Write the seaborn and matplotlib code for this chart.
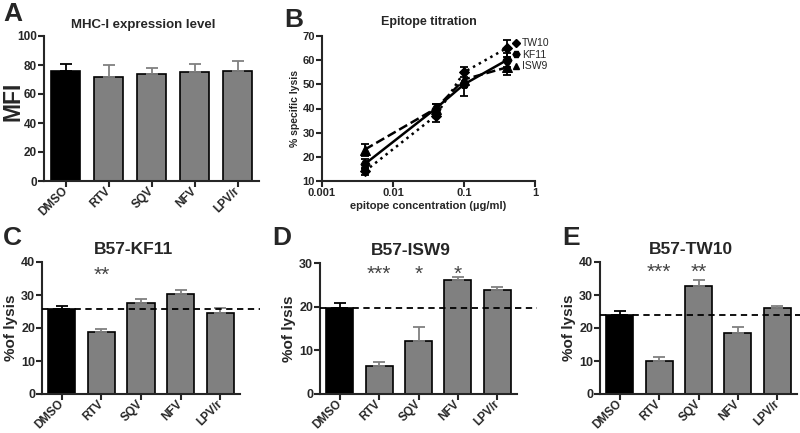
import numpy as np
import pandas as pd
import matplotlib
matplotlib.use("Agg")
import matplotlib.pyplot as plt
from matplotlib.lines import Line2D
import seaborn as sns

# ---- data ----
drugs = ["DMSO", "RTV", "SQV", "NFV", "LPV/r"]

mhc_mean = [76, 72, 74, 75, 76]
mhc_err = [5, 8, 4, 6, 7]

conc = [0.004, 0.04, 0.1, 0.4]
tw10_mean = [14, 37, 55, 65]
tw10_err = [1.5, 2.5, 2, 3.5]
kf11_mean = [17, 40, 50, 60]
kf11_err = [2, 2, 5, 3]
isw9_mean = [23, 40, 52, 57]
isw9_err = [2.5, 2, 3, 3]

kf11_lysis = [25.8, 18.8, 27.6, 30.4, 24.6]
kf11_lysis_err = [0.8, 0.8, 1.2, 1.2, 1.5]
isw9_lysis = [19.7, 6.3, 12.2, 26.1, 23.9]
isw9_lysis_err = [1.1, 1.1, 3.1, 0.8, 0.7]
tw10_lysis = [23.8, 10.0, 32.8, 18.6, 26.0]
tw10_lysis_err = [1.3, 1.2, 1.8, 1.7, 0.7]

kf11_stars = {"RTV": "**"}
isw9_stars = {"RTV": "***", "SQV": "*", "NFV": "*"}
tw10_stars = {"RTV": "***", "SQV": "**"}

sns.set_style("ticks")
plt.rcParams["font.family"] = ["Liberation Sans", "DejaVu Sans"]
plt.rcParams["font.weight"] = "bold"
plt.rcParams["axes.linewidth"] = 1.5
plt.rcParams["xtick.major.width"] = 1.5
plt.rcParams["ytick.major.width"] = 1.5
plt.rcParams["xtick.major.size"] = 4
plt.rcParams["ytick.major.size"] = 4

BAR_COLORS = ["black", "#808080", "#808080", "#808080", "#808080"]
W, H = 800, 433


def box(x0, y0, x1, y1):
    """pixel box (top-left origin) -> figure fraction rect"""
    return [x0 / W, 1 - y1 / H, (x1 - x0) / W, (y1 - y0) / H]


def bar_panel(ax, means, errs, ylim, yticks, title, ylabel, ylabel_size,
              tick_size, title_size, ref=None, stars=None, star_y=None,
              ylabel_xy=None):
    df = pd.DataFrame({"drug": drugs, "val": means})
    sns.barplot(data=df, x="drug", y="val", hue="drug", palette=BAR_COLORS,
                legend=False, errorbar=None, width=0.69, edgecolor="black",
                linewidth=1.2, ax=ax)
    for i, (m, e) in enumerate(zip(means, errs)):
        ax.errorbar(i, m, yerr=[[0], [e]], fmt="none", ecolor=BAR_COLORS[i],
                    elinewidth=1.3, capsize=4.5, capthick=1.3, zorder=1)
    ax.set_xlim(-0.5, 4.5)
    ax.set_ylim(*ylim)
    ax.set_yticks(yticks)
    ax.set_xlabel("")
    ax.set_ylabel(ylabel, fontsize=ylabel_size, fontweight="bold", labelpad=2)
    if ylabel_xy is not None:
        ax.yaxis.set_label_coords(*ylabel_xy)
        ax.yaxis.label.set_va("center")
    ax.set_title(title, fontsize=title_size, fontweight="bold", x=0.46, pad=6)
    ax.tick_params(axis="y", labelsize=tick_size, pad=1)
    ax.tick_params(axis="x", labelsize=8.5, pad=2)
    for lab in ax.get_xticklabels():
        lab.set_rotation(45)
        lab.set_ha("right")
        lab.set_va("center")
        lab.set_rotation_mode("anchor")
        lab.set_fontweight("bold")
    for lab in ax.get_yticklabels():
        lab.set_fontweight("bold")
    if ref is not None:
        ax.axhline(ref, xmin=0, xmax=1.1, color="black", lw=1.3,
                   ls=(0, (3.5, 2.5)), clip_on=False, zorder=5)
    if stars:
        for k, s in stars.items():
            ax.text(drugs.index(k), star_y, s, ha="center", va="center",
                    fontsize=15, color="#444444", fontweight="normal")
    sns.despine(ax=ax)


fig = plt.figure(figsize=(8, 4.33), dpi=100)

# A
axA = fig.add_axes(box(44, 36, 259, 181))
bar_panel(axA, mhc_mean, mhc_err, (0, 100), range(0, 101, 20),
          "MHC-I expression level", "MFI", 16.5, 8.5, 9.5,
          ylabel_xy=(-31 / 215, 0.55))

# B
axB = fig.add_axes(box(322, 36, 535, 181))
series = [("TW10", tw10_mean, tw10_err, "D", ":", 5.5, 4.5),
          ("KF11", kf11_mean, kf11_err, "H", "-", 6.5, 5),
          ("ISW9", isw9_mean, isw9_err, "^", "--", 6.5, 5)]
handles = []
for name, m, e, mk, ls, ms, lms in series:
    sns.lineplot(x=conc, y=m, ax=axB, color="black", lw=1.8, linestyle=ls,
                 marker=mk, markersize=ms, markeredgecolor="black")
    axB.errorbar(conc, m, yerr=e, fmt="none", ecolor="black", elinewidth=1.3,
                 capsize=3, capthick=1.3)
    handles.append(Line2D([], [], color="black", marker=mk, ls="none",
                          markersize=lms))
axB.set_xscale("log")
axB.set_xlim(0.001, 1)
axB.set_ylim(10, 70)
axB.set_xticks([0.001, 0.01, 0.1, 1])
axB.set_xticklabels(["0.001", "0.01", "0.1", "1"])
axB.minorticks_off()
axB.set_yticks(range(10, 71, 10))
axB.tick_params(labelsize=8, pad=1)
for lab in axB.get_xticklabels() + axB.get_yticklabels():
    lab.set_fontweight("bold")
axB.set_xlabel("epitope concentration (\u00b5g/ml)", fontsize=8,
               fontweight="bold", labelpad=2)
axB.set_ylabel("% specific lysis", fontsize=7.5, fontweight="bold", labelpad=2)
axB.set_title("Epitope titration", fontsize=9, fontweight="bold", pad=8)
leg = axB.legend(handles, [s[0] for s in series], loc="upper left",
                 bbox_to_anchor=(0.895, 0.985), frameon=False, fontsize=7.5,
                 handlelength=0.6, handletextpad=0.3, labelspacing=0.15,
                 borderaxespad=0, borderpad=0)
for t in leg.get_texts():
    t.set_fontweight("normal")
sns.despine(ax=axB)

# C, D, E
axC = fig.add_axes(box(42, 262, 240, 394))
bar_panel(axC, kf11_lysis, kf11_lysis_err, (0, 40), range(0, 41, 10),
          "B57-KF11", "%of lysis", 11, 9, 12.5, ref=kf11_lysis[0],
          stars=kf11_stars, star_y=36.0)

axD = fig.add_axes(box(320, 263, 517, 394))
bar_panel(axD, isw9_lysis, isw9_lysis_err, (0, 30), range(0, 31, 10),
          "B57-ISW9", "%of lysis", 11, 9, 12.5, ref=isw9_lysis[0],
          stars=isw9_stars, star_y=27.3)

axE = fig.add_axes(box(600, 262, 797, 394))
bar_panel(axE, tw10_lysis, tw10_lysis_err, (0, 40), range(0, 41, 10),
          "B57-TW10", "%of lysis", 11, 9, 12.5, ref=tw10_lysis[0],
          stars=tw10_stars, star_y=36.8)

# panel letters
for letter, px, py in [("A", 3, 2), ("B", 284, 8), ("C", 3, 226),
                       ("D", 272, 226), ("E", 562, 226)]:
    fig.text(px / W, 1 - py / H, letter, fontsize=19, fontweight="bold",
             ha="left", va="top")

fig.savefig("out.png", dpi=100)
